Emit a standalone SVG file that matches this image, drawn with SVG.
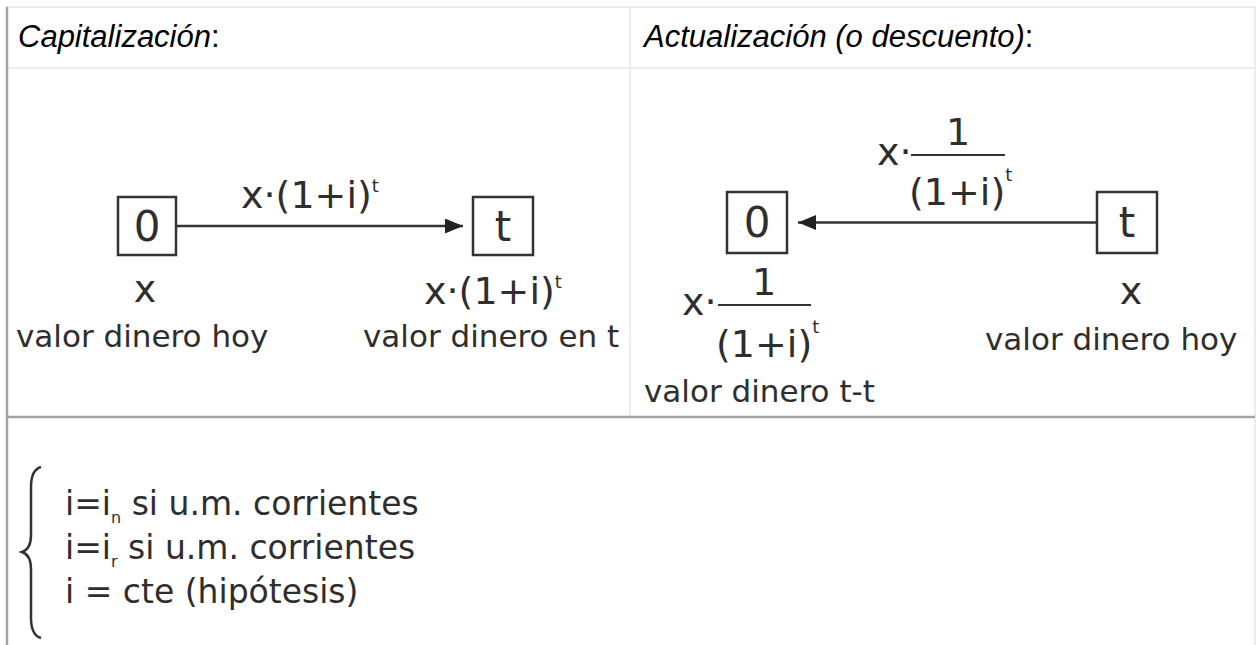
<svg xmlns="http://www.w3.org/2000/svg" width="1258" height="645" viewBox="0 0 1258 645">
<style>
.hdr{font-family:"Liberation Sans",Arial,sans-serif;font-size:31px;font-style:italic;fill:#000}
.up{font-style:normal}
.f{font-family:"DejaVu Sans",Verdana,sans-serif;fill:#2e2e2e}
.big{font-size:42px}
.mid{font-size:38px}
.sm{font-size:31px}
.txt{font-size:33px}
.box{fill:#fff;stroke:#333;stroke-width:2.5}
.light{stroke:#ececec;stroke-width:2;fill:none}
.dark{stroke:#a3a3a3;stroke-width:2.5;fill:none}
.conn{stroke:#333;stroke-width:2.5;fill:none}
.bar{stroke:#333;stroke-width:2}
</style>
<defs>
<marker id="ah" markerUnits="userSpaceOnUse" markerWidth="18" markerHeight="15" refX="18" refY="7.5" orient="auto">
<path d="M0,0 L18,7.5 L0,15 z" fill="#222"/>
</marker>
</defs>
<rect width="1258" height="645" fill="#fff"/>
<g id="table">
<line class="light" x1="6" y1="7" x2="1256" y2="7"/>
<line class="light" x1="7" y1="68" x2="1255" y2="68"/>
<line class="light" x1="630" y1="7" x2="630" y2="417"/>
<line class="light" x1="1255" y1="7" x2="1255" y2="645"/>
<line class="dark" x1="7" y1="417" x2="1255" y2="417"/>
<line class="dark" x1="7" y1="7" x2="7" y2="645"/>
</g>
<g id="headers">
<text class="hdr" x="18" y="47">Capitalización<tspan class="up">:</tspan></text>
<text class="hdr" x="644" y="47">Actualización (o descuento)<tspan class="up">:</tspan></text>
</g>
<g id="connectors">
<line class="conn" x1="176" y1="226" x2="463" y2="226" marker-end="url(#ah)"/>
<line class="conn" x1="1096" y1="222.5" x2="798" y2="222.5" marker-end="url(#ah)"/>
</g>
<g id="cap-node-0">
<rect class="box" x="118" y="197" width="58" height="58"/>
<text class="f big" x="147" y="241" text-anchor="middle">0</text>
<text class="f mid" x="145" y="302" text-anchor="middle">x</text>
<text class="f sm" x="16" y="347">valor dinero hoy</text>
</g>
<g id="cap-node-t">
<rect class="box" x="473" y="197" width="60" height="58"/>
<text class="f big" x="503" y="241" text-anchor="middle">t</text>
<text class="f mid" x="424" y="304">x·(1+i)<tspan font-size="18" dy="-16">t</tspan></text>
<text class="f sm" x="363" y="347">valor dinero en t</text>
</g>
<g id="cap-label">
<text class="f mid" x="241" y="208">x·(1+i)<tspan font-size="18" dy="-16">t</tspan></text>
</g>
<g id="act-node-0">
<rect class="box" x="727" y="192" width="60" height="61"/>
<text class="f big" x="757" y="237" text-anchor="middle">0</text>
<text class="f mid" x="682" y="315">x·</text>
<text class="f mid" x="764" y="295" text-anchor="middle">1</text>
<line class="bar" x1="718" y1="305" x2="811" y2="305"/>
<text class="f mid" x="716" y="357">(1+i)<tspan font-size="18" dy="-24">t</tspan></text>
<text class="f sm" x="644" y="402">valor dinero t-t</text>
</g>
<g id="act-node-t">
<rect class="box" x="1097" y="192" width="60" height="61"/>
<text class="f big" x="1127" y="237" text-anchor="middle">t</text>
<text class="f mid" x="1131" y="304" text-anchor="middle">x</text>
<text class="f sm" x="985" y="350">valor dinero hoy</text>
</g>
<g id="act-label">
<text class="f mid" x="877" y="165">x·</text>
<text class="f mid" x="958" y="145" text-anchor="middle">1</text>
<line class="bar" x1="911" y1="155" x2="1005" y2="155"/>
<text class="f mid" x="909" y="205">(1+i)<tspan font-size="18" dy="-24">t</tspan></text>
</g>
<g id="conditions">
<path class="conn" d="M41,467 C34,469 31,476 31,487 L31,535 C31,545 28,550 22,552 C28,554 31,559 31,569 L31,618 C31,629 34,636 41,638"/>
<text class="f txt" x="65" y="515">i=i<tspan font-size="16" dy="8">n</tspan><tspan dy="-8"> si u.m. corrientes</tspan></text>
<text class="f txt" x="65" y="559">i=i<tspan font-size="16" dy="8">r</tspan><tspan dy="-8"> si u.m. corrientes</tspan></text>
<text class="f txt" x="65" y="603">i = cte (hipótesis)</text>
</g>
</svg>
